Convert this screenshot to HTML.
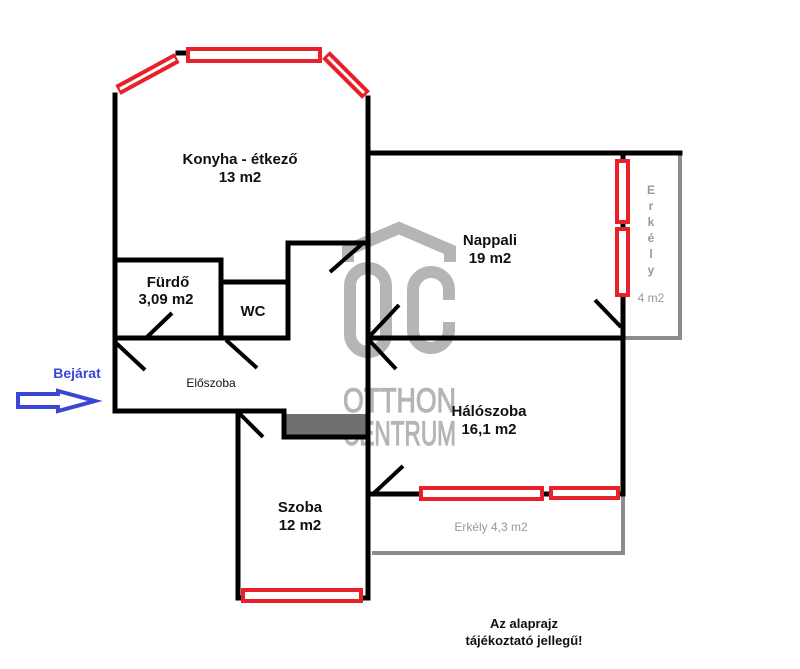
<!DOCTYPE html>
<html><head><meta charset="utf-8"><style>
html,body{margin:0;padding:0;background:#fff;}
svg{display:block;}
text{font-family:"Liberation Sans",Arial,sans-serif;}
</style></head><body>
<svg width="800" height="669" viewBox="0 0 800 669" xmlns="http://www.w3.org/2000/svg">
<g fill="none" stroke="#b5b5b5" stroke-width="12">
<polyline points="348,262 348,250 399,228 450,250 450,262" stroke-linejoin="miter"/>
<rect x="350" y="268" width="36" height="84" rx="18"/>
<path d="M449,300 V290 a18,18 0 0 0 -36,0 V330 a18,18 0 0 0 36,0 V322"/>
</g>
<g fill="#b5b5b5" stroke="#b5b5b5" stroke-width="1.2" font-family="Liberation Sans Narrow, Liberation Sans, sans-serif">
<text x="343" y="412" font-size="34" textLength="113" lengthAdjust="spacingAndGlyphs">OTTHON</text>
<text x="343" y="445" font-size="34" textLength="113" lengthAdjust="spacingAndGlyphs">CENTRUM</text>
</g>
<g stroke="#8c8c8c" stroke-width="4" fill="none">
<polyline points="623,153 680,153 680,338 623,338"/>
<polyline points="623,494 623,553 372,553"/>
</g>
<rect x="284" y="414" width="84" height="22" fill="#707070"/>
<g stroke="#000" stroke-width="5" fill="none" stroke-linecap="square">
<line x1="115" y1="95" x2="115" y2="411"/>
<line x1="368" y1="98" x2="368" y2="598"/>
<line x1="368" y1="153" x2="680" y2="153"/>
<line x1="623" y1="153" x2="623" y2="494"/>
<line x1="368" y1="338" x2="623" y2="338"/>
<line x1="368" y1="494" x2="623" y2="494"/>
<line x1="115" y1="260" x2="221" y2="260"/>
<line x1="221" y1="260" x2="221" y2="338"/>
<line x1="221" y1="282" x2="288" y2="282"/>
<polyline points="288,338 288,243 368,243"/>
<line x1="115" y1="338" x2="288" y2="338"/>
<polyline points="115,411 284,411 284,437 368,437"/>
<line x1="238" y1="411" x2="238" y2="598"/>
<line x1="238" y1="598" x2="368" y2="598"/>
<line x1="178" y1="53" x2="186" y2="53"/>
</g>
<g stroke="#000" stroke-width="4" fill="none">
<line x1="330" y1="272" x2="362" y2="244"/>
<line x1="172" y1="313" x2="146" y2="338"/>
<line x1="115" y1="342" x2="145" y2="370"/>
<line x1="226" y1="340" x2="257" y2="368"/>
<line x1="368" y1="338" x2="399" y2="305"/>
<line x1="369" y1="340" x2="396" y2="369"/>
<line x1="240" y1="414" x2="263" y2="437"/>
<line x1="373" y1="494" x2="403" y2="466"/>
<line x1="595" y1="300" x2="621" y2="327"/>
</g>
<g stroke="#e8202a" stroke-width="4" fill="#fff">
<rect x="188" y="49" width="132" height="12"/>
<rect x="617" y="161" width="11" height="61"/>
<rect x="617" y="229" width="11" height="66"/>
<rect x="421" y="488" width="121" height="11"/>
<rect x="551" y="488" width="67" height="10"/>
<rect x="243" y="590" width="118" height="11"/>
</g>
<g fill="none">
<line x1="118" y1="90" x2="177" y2="58" stroke="#e8202a" stroke-width="11"/>
<line x1="120" y1="89" x2="175" y2="59" stroke="#fff" stroke-width="3"/>
<line x1="326" y1="55" x2="366" y2="95" stroke="#e8202a" stroke-width="11"/>
<line x1="328" y1="57" x2="364" y2="93" stroke="#fff" stroke-width="3"/>
</g>
<g font-weight="bold" font-size="15" fill="#111" text-anchor="middle">
<text x="240" y="164">Konyha - étkező</text>
<text x="240" y="182">13 m2</text>
<text x="490" y="245">Nappali</text>
<text x="490" y="263">19 m2</text>
<text x="168" y="287">Fürdő</text>
<text x="166" y="304">3,09 m2</text>
<text x="253" y="316">WC</text>
<text x="489" y="416">Hálószoba</text>
<text x="489" y="434">16,1 m2</text>
<text x="300" y="512">Szoba</text>
<text x="300" y="530">12 m2</text>
</g>
<text x="211" y="387" font-size="12" fill="#111" text-anchor="middle">Előszoba</text>
<g font-size="12" fill="#999" text-anchor="middle" font-weight="bold">
<text x="651" y="194">E</text>
<text x="651" y="210">r</text>
<text x="651" y="226">k</text>
<text x="651" y="242">é</text>
<text x="651" y="258">l</text>
<text x="651" y="274">y</text>
<text x="651" y="302" font-weight="normal">4 m2</text>
<text x="491" y="531" font-weight="normal">Erkély 4,3 m2</text>
</g>
<g font-weight="bold" font-size="13" fill="#111" text-anchor="middle">
<text x="524" y="628">Az alaprajz</text>
<text x="524" y="645">tájékoztató jellegű!</text>
</g>
<text x="77" y="378" font-weight="bold" font-size="14" fill="#3b45d6" text-anchor="middle">Bejárat</text>
<polygon points="18,394 58,394 58,391 95,401 58,411 58,407 18,407" fill="#fff" stroke="#3b45d6" stroke-width="4" stroke-linejoin="miter"/>
</svg>
</body></html>
